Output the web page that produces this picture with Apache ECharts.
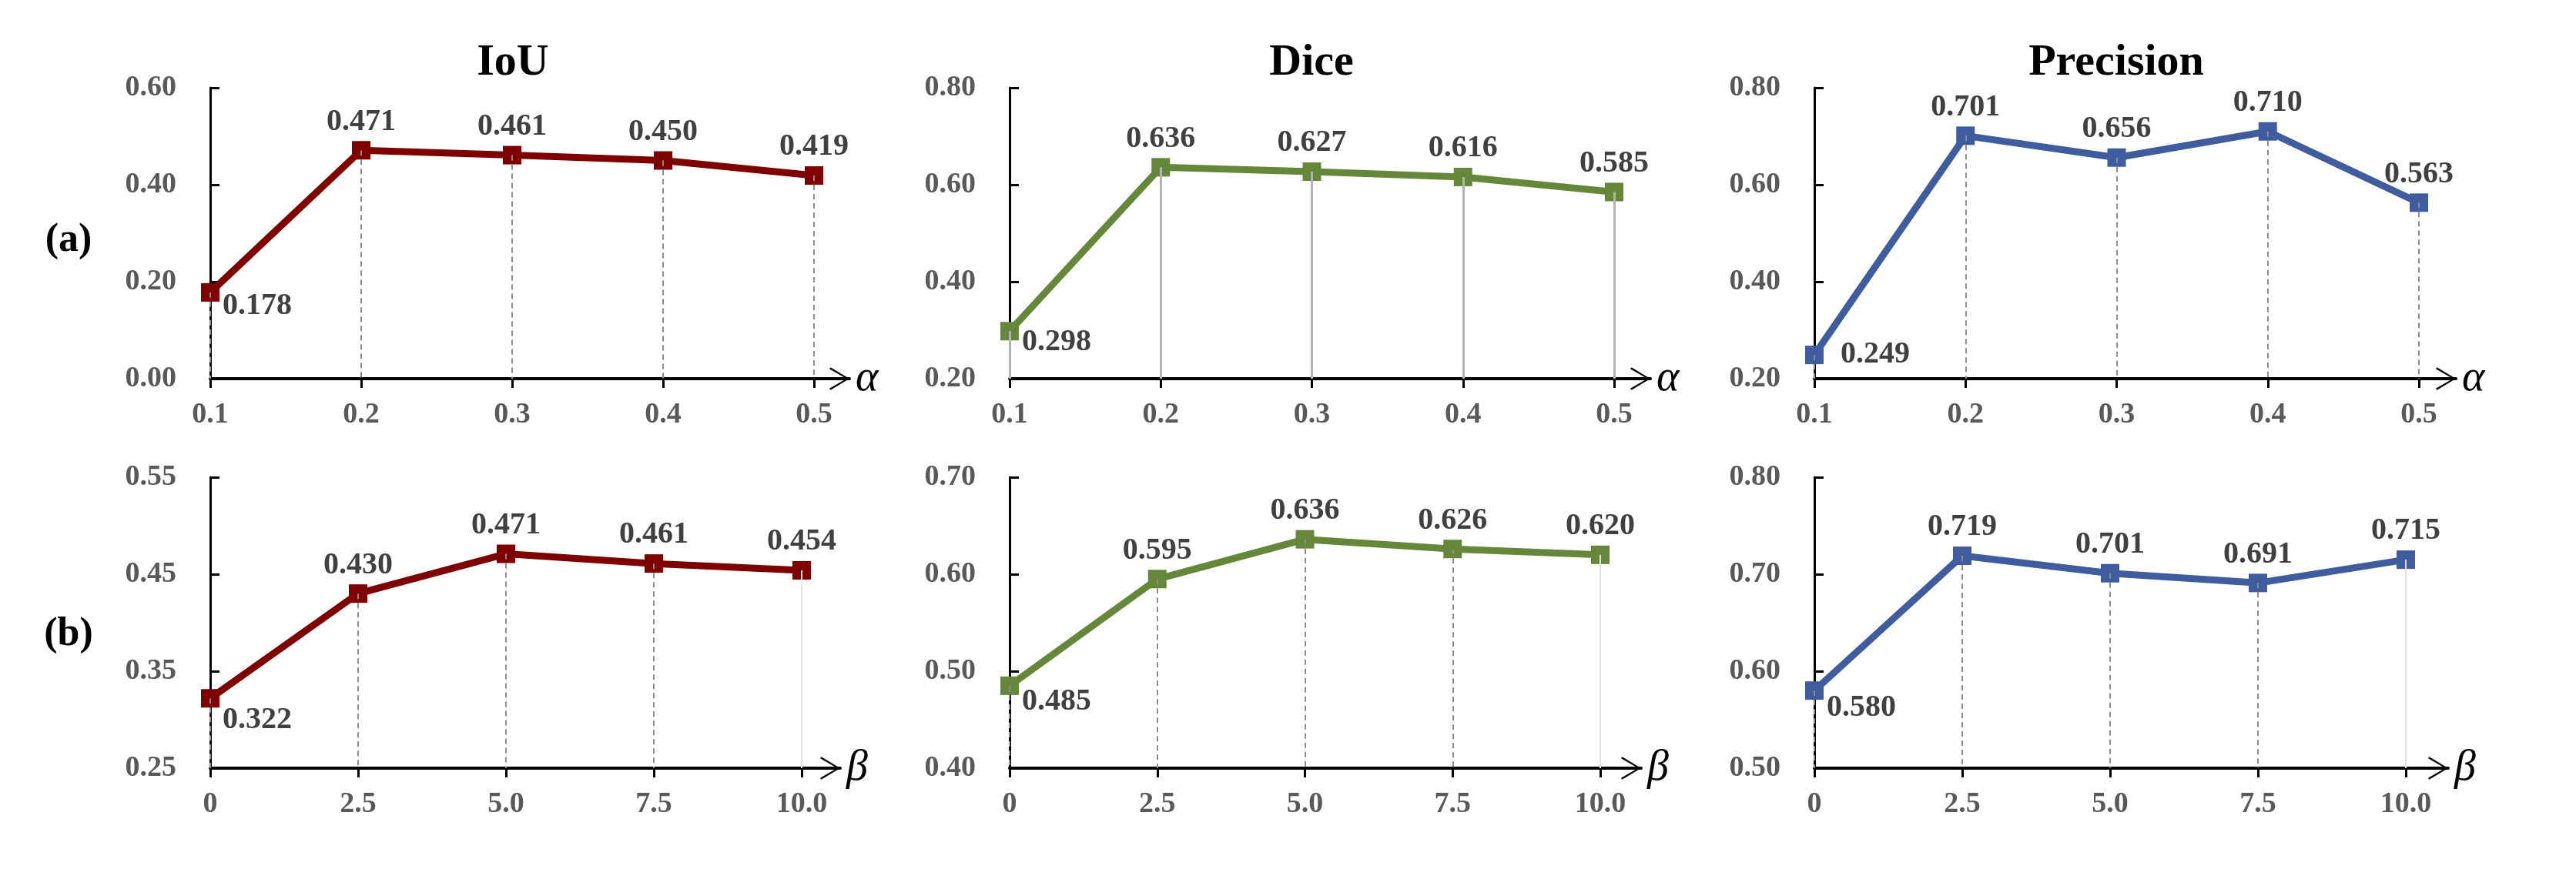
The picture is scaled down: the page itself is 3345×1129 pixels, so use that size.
<!DOCTYPE html>
<html>
<head>
<meta charset="utf-8">
<script src="https://cdn.jsdelivr.net/npm/echarts@6/dist/echarts.min.js"></script>
<style>
  html, body { margin: 0; padding: 0; background: #fff; }
  #main { width: 3345px; height: 1129px; }
</style>
</head>
<body>
<div id="main"></div>
<script>
// x axis ticks for the two parameter sweeps
const alphaTicks = [0.1, 0.2, 0.3, 0.4, 0.5];
const alphaLabels = ['0.1', '0.2', '0.3', '0.4', '0.5'];
const betaTicks = [0, 2.5, 5, 7.5, 10];
const betaLabels = ['0', '2.5', '5.0', '7.5', '10.0'];

const metrics = ['IoU', 'Dice', 'Precision'];
const rowNames = ['(a)', '(b)'];

// row (a): varying alpha
const iouAlpha = [0.178, 0.471, 0.461, 0.450, 0.419];
const diceAlpha = [0.298, 0.636, 0.627, 0.616, 0.585];
const precAlpha = [0.249, 0.701, 0.656, 0.710, 0.563];
// row (b): varying beta
const iouBeta = [0.322, 0.430, 0.471, 0.461, 0.454];
const diceBeta = [0.485, 0.595, 0.636, 0.626, 0.620];
const precBeta = [0.580, 0.719, 0.701, 0.691, 0.715];

// y tick values
const iouAlphaY = [0, 0.2, 0.4, 0.6];
const diceAlphaY = [0.2, 0.4, 0.6, 0.8];
const precAlphaY = [0.2, 0.4, 0.6, 0.8];
const iouBetaY = [0.25, 0.35, 0.45, 0.55];
const diceBetaY = [0.4, 0.5, 0.6, 0.7];
const precBetaY = [0.5, 0.6, 0.7, 0.8];

const colors = ['#7f0000', '#65873a', '#3e5c9e'];
const FONT = "'Liberation Serif', 'Times New Roman', serif";

// pixel layout: left edge, last tick, arrow tip
const panels = [
  { x: alphaTicks, xl: alphaLabels, y: iouAlpha,  yt: iouAlphaY,  c: 0, top: 114, left: 273,  last: 1057, tip: 1103, name: 'α', dy: 18, drop: 'dash' },
  { x: alphaTicks, xl: alphaLabels, y: diceAlpha, yt: diceAlphaY, c: 1, top: 114, left: 1311, last: 2096, tip: 2143, name: 'α', dy: 14, drop: 'solid' },
  { x: alphaTicks, xl: alphaLabels, y: precAlpha, yt: precAlphaY, c: 2, top: 114, left: 2356, last: 3141, tip: 3189, name: 'α', dy: 0, drop: 'dash', gap: 22 },
  { x: betaTicks, xl: betaLabels, y: iouBeta,  yt: iouBetaY,  c: 0, top: 620, left: 273,  last: 1041, tip: 1091, name: 'β', dy: 28, drop: 'dash', fade: true },
  { x: betaTicks, xl: betaLabels, y: diceBeta, yt: diceBetaY, c: 1, top: 620, left: 1311, last: 2078, tip: 2131, name: 'β', dy: 21, drop: 'dash', fade: true },
  { x: betaTicks, xl: betaLabels, y: precBeta, yt: precBetaY, c: 2, top: 620, left: 2356, last: 3124, tip: 3179, name: 'β', dy: 22, drop: 'dash', fade: true }
];
const plotH = 378;

const chevron = 'path://M15,0 L30,25 L28,26.5 L15,4 L2,26.5 L0,25 Z';

const grids = [], xAxes = [], yAxes = [], series = [];

panels.forEach(function (p, k) {
  const span = p.x[p.x.length - 1] - p.x[0];
  const xMax = p.x[0] + span * (p.tip - p.left) / (p.last - p.left);
  const yMin = p.yt[0], yMax = p.yt[p.yt.length - 1];

  grids.push({ left: p.left, top: p.top, width: p.tip - p.left, height: plotH, outerBoundsMode: 'none' });

  xAxes.push({
    type: 'value', gridIndex: k, min: p.x[0], max: xMax,
    name: p.name, nameLocation: 'end', nameGap: 8,
    nameTextStyle: { fontFamily: FONT, fontStyle: 'italic', fontSize: 56, color: '#000', verticalAlign: 'middle', padding: [0, 0, 4, 0] },
    axisLine: { show: true, onZero: false, symbol: ['none', chevron], symbolSize: [30, 26], symbolOffset: [0, -13],
      lineStyle: { color: '#000', width: 4 } },
    axisTick: { show: true, inside: false, length: 12, customValues: p.x, lineStyle: { color: '#000', width: 3 } },
    axisLabel: { show: true, margin: 28, customValues: p.x, fontFamily: FONT, fontWeight: 'bold', fontSize: 38, color: '#595959',
      formatter: function (v) { const i = p.x.findIndex(function (t) { return Math.abs(t - v) < 1e-6; }); return i >= 0 ? p.xl[i] : ''; } },
    splitLine: { show: false }
  });

  yAxes.push({
    type: 'value', gridIndex: k, min: yMin, max: yMax,
    axisLine: { show: true, onZero: false, lineStyle: { color: '#000', width: 3 } },
    axisTick: { show: true, inside: true, length: 12, customValues: p.yt, lineStyle: { color: '#000', width: 3 } },
    axisLabel: { show: true, margin: 44, customValues: p.yt, fontFamily: FONT, fontWeight: 'bold', fontSize: 38, color: '#595959',
      formatter: function (v) { return v.toFixed(2); } },
    splitLine: { show: false }
  });

  const dropStyle = p.drop === 'solid'
    ? { color: '#b3b3b3', width: 3, type: 'solid' }
    : { color: '#8c8c8c', width: 2, type: [7, 5] };

  const drops = p.y.map(function (v, i) {
    const item = [{ coord: [p.x[i], v] }, { coord: [p.x[i], yMin] }];
    if (p.fade && i === p.y.length - 1) item[0].lineStyle = { color: '#e3e3e3', width: 2, type: 'solid' };
    return item;
  });

  const pts = p.y.map(function (v, i) {
    if (i === 0) {
      return { value: [p.x[i], v], label: { position: 'right', distance: p.gap || 4, offset: [0, p.dy] } };
    }
    return [p.x[i], v];
  });

  series.push({
    type: 'line', xAxisIndex: k, yAxisIndex: k, data: pts,
    symbol: 'rect', symbolSize: 24,
    lineStyle: { color: colors[p.c], width: 9 },
    itemStyle: { color: colors[p.c] },
    label: { show: true, position: 'top', distance: 5, fontFamily: FONT, fontWeight: 'bold', fontSize: 40, color: '#404040',
      formatter: function (d) { return d.value[1].toFixed(3); } },
    markLine: { silent: true, symbol: ['none', 'none'], label: { show: false }, lineStyle: dropStyle, data: drops, animation: false },
    z: 3
  });
});

const graphics = [];
[666, 1703, 2748].forEach(function (cx, i) {
  graphics.push({ type: 'text', x: cx, y: 82, style: { text: metrics[i], fontFamily: FONT, fontWeight: 'bold', fontSize: 58, fill: '#000', textAlign: 'center', textVerticalAlign: 'middle' } });
});
[313, 825].forEach(function (cy, i) {
  graphics.push({ type: 'text', x: 89, y: cy, style: { text: rowNames[i], fontFamily: FONT, fontWeight: 'bold', fontSize: 52, fill: '#000', textAlign: 'center', textVerticalAlign: 'middle' } });
});

const chart = echarts.init(document.getElementById('main'));
chart.setOption({
  animation: false,
  backgroundColor: '#fff',
  grid: grids,
  xAxis: xAxes,
  yAxis: yAxes,
  series: series,
  graphic: graphics
});
</script>
</body>
</html>
